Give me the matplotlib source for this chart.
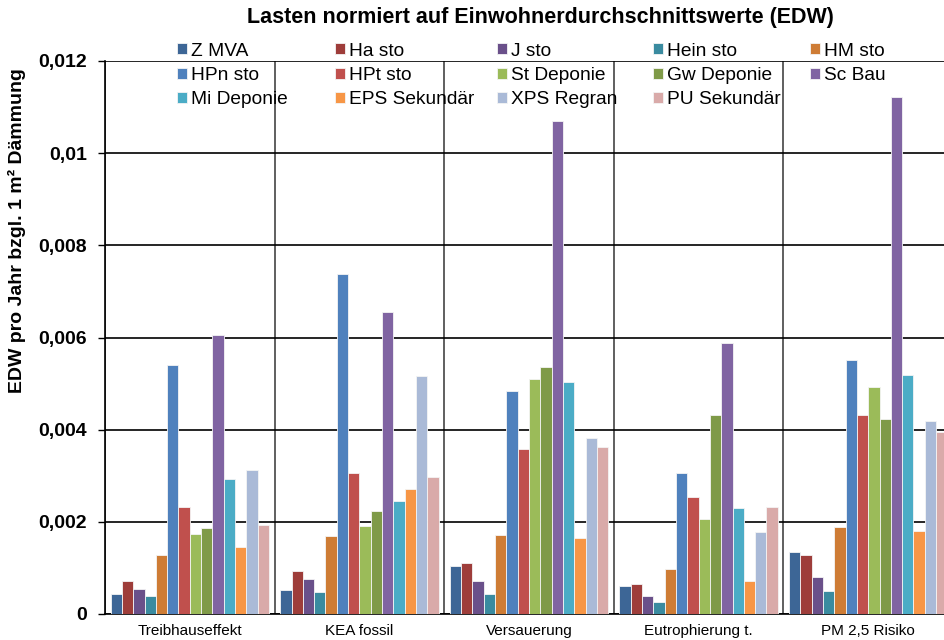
import matplotlib.pyplot as plt
import matplotlib.ticker as mticker
import numpy as np

plt.rcParams['font.family'] = ['Liberation Sans', 'DejaVu Sans']

# Wirkungskategorien
categories = ["Treibhauseffekt", "KEA fossil", "Versauerung", "Eutrophierung t.", "PM 2,5 Risiko"]

series = ["Z MVA", "Ha sto", "J sto", "Hein sto", "HM sto",
          "HPn sto", "HPt sto", "St Deponie", "Gw Deponie", "Sc Bau",
          "Mi Deponie", "EPS Sekundär", "XPS Regran", "PU Sekundär"]

colors = ["#3D6696", "#9E3D3A", "#6A508A", "#3A8BA0", "#CE7C35",
          "#4F81BD", "#C0504D", "#9BBB59", "#7F9A48", "#8064A2",
          "#4BACC6", "#F79646", "#AABAD7", "#D9AAA9"]

# EDW-Werte je Variante, in der Reihenfolge der Kategorien
z_mva = [0.00043, 0.00052, 0.00105, 0.00061, 0.00135]
ha_sto = [0.00072, 0.00094, 0.00111, 0.00066, 0.00127]
j_sto = [0.00054, 0.00075, 0.00072, 0.00038, 0.00081]
hein_sto = [0.00039, 0.00048, 0.00043, 0.00027, 0.00049]
hm_sto = [0.00127, 0.00170, 0.00172, 0.00098, 0.00189]
hpn_sto = [0.00540, 0.00738, 0.00483, 0.00305, 0.00551]
hpt_sto = [0.00232, 0.00305, 0.00359, 0.00254, 0.00431]
st_deponie = [0.00174, 0.00192, 0.00510, 0.00206, 0.00493]
gw_deponie = [0.00186, 0.00224, 0.00537, 0.00431, 0.00424]
sc_bau = [0.00605, 0.00655, 0.01070, 0.00588, 0.01121]
mi_deponie = [0.00294, 0.00245, 0.00503, 0.00230, 0.00518]
eps_sekundaer = [0.00145, 0.00272, 0.00165, 0.00072, 0.00180]
xps_regran = [0.00312, 0.00517, 0.00383, 0.00179, 0.00418]
pu_sekundaer = [0.00194, 0.00298, 0.00362, 0.00233, 0.00395]

values = [z_mva, ha_sto, j_sto, hein_sto, hm_sto,
          hpn_sto, hpt_sto, st_deponie, gw_deponie, sc_bau,
          mi_deponie, eps_sekundaer, xps_regran, pu_sekundaer]

fig = plt.figure(figsize=(9.44, 6.4), dpi=100)
ax = fig.add_axes([105 / 944, 26 / 640, 848 / 944, 553 / 640])

x = np.arange(len(categories))
n = len(series)
w = 1 / (n + 1)
handles = []
for i, (name, vals, c) in enumerate(zip(series, values, colors)):
    b = ax.bar(x + (i - (n - 1) / 2) * w, vals, w, color=c,
               edgecolor="#f4f4f4", linewidth=0.6, label=name, zorder=3)
    handles.append(b)

ax.set_xlim(-0.5, len(categories) - 0.5)
ax.set_ylim(0, 0.012)
ax.yaxis.set_major_locator(mticker.MultipleLocator(0.002))
ax.yaxis.set_major_formatter(mticker.FuncFormatter(
    lambda v, p: "0" if v == 0 else f"{v:.3f}".rstrip("0").replace(".", ",")))
ax.set_xticks(x)
ax.set_xticklabels(categories, fontsize=11)
ax.set_xticks(np.arange(len(categories) + 1) - 0.5, minor=True)
ax.tick_params(axis="x", which="both", length=0, pad=7)
ax.tick_params(axis="y", length=5, width=1, direction="out", pad=8)
for lab in ax.get_yticklabels():
    lab.set_fontweight("bold")
    lab.set_fontsize(14)

ax.grid(axis="y", color="black", linewidth=1.2, zorder=0)
ax.grid(axis="x", which="minor", color="#444444", linewidth=1.2, zorder=0)
ax.grid(axis="x", which="major", visible=False)
for s in ["top", "right"]:
    ax.spines[s].set_visible(False)
ax.spines["left"].set_linewidth(1.2)
ax.spines["bottom"].set_linewidth(1.2)

ax.set_ylabel("EDW pro Jahr bzgl. 1 m² Dämmung", fontsize=14, fontweight="bold")
ax.yaxis.set_label_coords(-0.093, 0.694)

fig.text(540 / 944, 1 - 18 / 640, "Lasten normiert auf Einwohnerdurchschnittswerte (EDW)",
         ha="center", va="center", fontsize=15.5, fontweight="bold")

# Legende: fünf gleich breite Spalten, zeilenweise befüllt
col_x = [177, 335, 497, 653, 810]
for j, cx in enumerate(col_x):
    idx = list(range(j, n, 5))
    leg = ax.legend([handles[i] for i in idx], [series[i] for i in idx],
                    frameon=False, fontsize=13.8,
                    loc="upper left", bbox_to_anchor=(cx / 944, 1 - 42.5 / 640),
                    bbox_transform=fig.transFigure,
                    handlelength=0.5, handleheight=0.5, handletextpad=0.25,
                    labelspacing=0.39, borderaxespad=0, borderpad=0)
    if j < len(col_x) - 1:
        ax.add_artist(leg)

fig.savefig("out.png", dpi=100)
